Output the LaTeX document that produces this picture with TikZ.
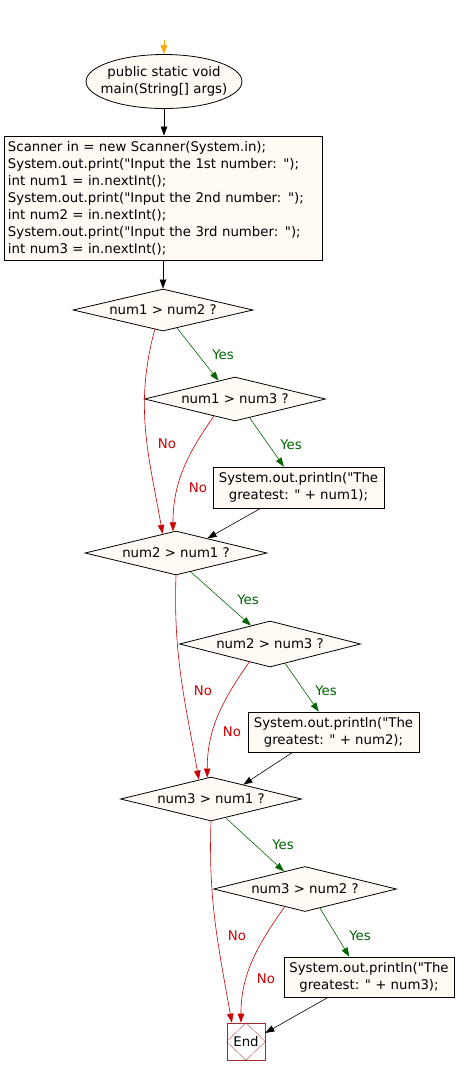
\documentclass[tikz,border=0pt]{standalone}
\usepackage{fontspec}
\setmainfont{DejaVu Sans}[Ligatures=TeXOff]
\usetikzlibrary{arrows.meta}
\usetikzlibrary{shapes.geometric}
\definecolor{cream}{RGB}{255,250,244}
\definecolor{yesgreen}{RGB}{0,100,0}
\definecolor{nored}{RGB}{204,0,0}
\definecolor{endred}{RGB}{165,42,42}
\definecolor{startorange}{RGB}{255,165,0}

\begin{document}
\begin{tikzpicture}[x=1pt,y=1pt,every node/.style={font=\fontsize{13.3}{17}\selectfont, inner sep=0pt},
	box/.style={draw, fill=cream, line width=0.8pt, minimum width=171, minimum height=41, align=center},
	test/.style={diamond, draw, fill=cream, line width=0.8pt, minimum width=181, minimum height=44, aspect=4.1},
	flow/.style={-{Triangle[length=9pt,width=6.5pt]}, line width=0.6pt},
	yes/.style={flow, yesgreen},
	no/.style={flow, nored},
	yeslabel/.style={text=yesgreen},
	nolabel/.style={text=nored}]
	
	\useasboundingbox (0,0) rectangle (456,-1076);
	
	\coordinate (top) at (164,-40);
	\node[ellipse, draw, fill=cream, line width=0.8pt, minimum width=156, minimum height=54, inner xsep=-9pt, align=center] (main) at (164,-81.5) {public static void\\main(String[] args)};
	\node[draw, fill=cream, line width=0.8pt, minimum width=318, minimum height=124, text width=310, inner xsep=4pt, align=left] (read) at (163,-198) {Scanner in = new Scanner(System.in);\\
		System.out.print("Input the 1st number: ");\\
		int num1 = in.nextInt();\\
		System.out.print("Input the 2nd number: ");\\
		int num2 = in.nextInt();\\
		System.out.print("Input the 3rd number: ");\\
		int num3 = in.nextInt();};
	
	\node[test, minimum width=180, minimum height=42] (q12) at (163,-310) {num1 > num2 ?};
	\node[test] (q13) at (235,-399) {num1 > num3 ?};
	\node[box] (g1) at (298.5,-487.5) {System.out.println("The\\greatest: " + num1);};
	\node[test, minimum width=182] (q21) at (176,-553) {num2 > num1 ?};
	\node[test, minimum height=46] (q23) at (270,-644) {num2 > num3 ?};
	\node[box, minimum height=40] (g2) at (333.5,-732) {System.out.println("The\\greatest: " + num2);};
	\node[test] (q31) at (211,-799) {num3 > num1 ?};
	\node[test, minimum width=183, minimum height=45] (q32) at (305,-889) {num3 > num2 ?};
	\node[box, minimum width=170, minimum height=40] (g3) at (369,-977) {System.out.println("The\\greatest: " + num3);};
	\node[draw=endred, line width=0.6pt, minimum width=38, minimum height=37] (end) at (246,-1041.5) {End};
	\draw[endred, line width=0.3pt] (end.north) -- (end.east) -- (end.south) -- (end.west) -- cycle;
	
	\node[yeslabel] (y1) at (223,-355) {Yes};
	\node[yeslabel] (y2) at (291,-445) {Yes};
	\node[yeslabel] (y3) at (248,-600) {Yes};
	\node[yeslabel] (y4) at (326,-691) {Yes};
	\node[yeslabel] (y5) at (283,-845) {Yes};
	\node[yeslabel] (y6) at (360,-936) {Yes};
	\node[nolabel] (n1) at (167,-444) {No};
	\node[nolabel] (n2) at (198,-488) {No};
	\node[nolabel] (n3) at (203,-691) {No};
	\node[nolabel] (n4) at (232,-732) {No};
	\node[nolabel] (n5) at (237,-936) {No};
	\node[nolabel] (n6) at (266,-979) {No};
	
	\draw[flow, startorange] (top) -- (main.north);
	\draw[flow] (main.south) -- (main |- read.north);
	\draw[flow] (read.south) -- (q12.north);
	
	\draw[yes] (q12.-52) -- (q13.132);
	\draw[yes] (q13.-52) -- (g1.125);
	\draw[no] (q12.-113) to[out=-105,in=100] (q21.125);
	\draw[no] (q13.-141) to[out=-125,in=90] (q21.98);
	\draw[flow] ([xshift=-38]g1.south) -- (q21.25);
	
	\draw[yes] (q21.-52) -- (q23.136);
	\draw[yes] (q23.-52) -- (g2.126);
	\draw[no] (q21.south) to[out=-92,in=100] (q31.122);
	\draw[no] (q23.-139) to[out=-125,in=90] (q31.100);
	\draw[flow] ([xshift=-41]g2.south) -- (q31.24);
	
	\draw[yes] (q31.-52) -- (q32.140);
	\draw[yes] (q32.-52) -- (g3.134);
	\draw[no] (q31.south) to[out=-92,in=100] (end.127);
	\draw[no] (q32.-139) to[out=-125,in=90] (end.105);
	\draw[flow] ([xshift=-41]g3.south) -- (end.24);
	
\end{tikzpicture}
\end{document}
